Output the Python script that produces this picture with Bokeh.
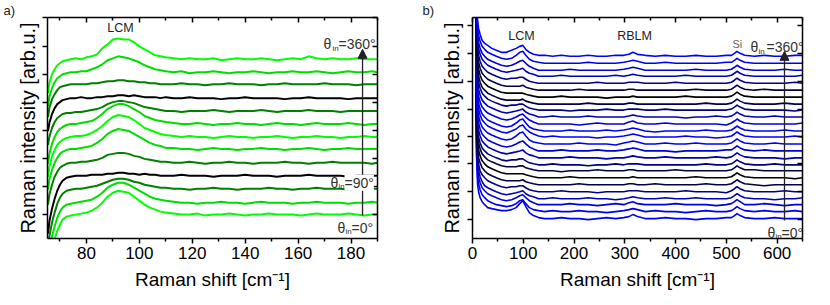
import math
from bokeh.plotting import figure
from bokeh.models import (Range1d, LinearAxis, FixedTicker, Label, Arrow,
                          NormalHead, CustomJSTickFormatter)
from bokeh.layouts import row
from bokeh.embed import file_html
from bokeh.resources import INLINE

FONT = "Liberation Sans"
TXT = "#333333"

# ---------------- panel a) : low-frequency spectra (green) ----------------
a_shift = [65.5, 66, 67, 68, 69, 70, 71, 72.5,
           74, 76, 78, 80, 82, 84, 86, 88, 90, 92, 94, 96, 98, 100, 102, 104, 106, 108, 110,
           113, 116, 119, 122, 125, 128, 131, 134, 137, 140, 143, 146, 149, 152, 155, 158,
           161, 164, 167, 170, 173, 176, 179, 182, 185, 188, 190]
a_angles = [360, 330, 300, 270, 240, 210, 180, 150, 120, 90, 60, 30, 0]
a_offset = [180, 167, 155, 141, 128, 115, 102, 90, 76, 63, 50, 36, 24]
a_360 = [-34,-24,-15,-10,-6,-4,-2,-1, 0,1,0,2,3,5,11,15,20,21,20,20,17,13,10,7,4,3,2,
         1,0,1,0,0,1,-1,0,1,0,0,1,0,-1,0,1,0,3,1,0,1,0,0,1,0,0,0]
a_330 = [-34,-25,-16,-10,-6,-4,-2,-1, 0,0,1,1,3,5,8,12,14,16,15,14,12,10,7,5,3,2,1,
         0,1,-1,0,0,1,0,-1,0,0,1,0,-1,0,0,1,0,0,1,0,-1,0,1,0,0,1,0]
a_300 = [-33,-24,-15,-10,-6,-3,-2,-1, 0,0,0,0,1,1,2,3,3,4,4,3,3,2,2,1,1,0,0,
         0,1,0,0,-1,0,0,1,0,0,0,-1,0,0,1,0,0,0,0,1,0,0,0,-1,0,0,0]
a_270 = [-33,-25,-16,-10,-6,-4,-2,-1, 0,0,1,0,0,1,1,2,2,3,3,2,3,2,1,1,1,0,1,
         0,0,1,0,0,0,-1,0,0,1,0,0,0,0,-1,0,0,1,0,0,0,0,-1,0,0,0,0]
a_240 = [-34,-26,-17,-11,-7,-5,-3,-2, -2,-1,-1,0,1,2,4,7,9,10,10,9,8,6,4,3,2,1,0,
         0,-1,0,0,0,1,0,-1,0,0,0,1,0,-1,0,0,0,1,0,0,0,-1,0,0,0,0,0]
a_210 = [-40,-30,-20,-13,-8,-5,-3,-1, 0,0,1,2,3,6,10,15,18,20,20,18,15,12,8,6,4,3,2,
         1,0,0,1,0,-1,0,0,1,0,0,-1,0,1,0,0,-1,0,1,0,0,0,1,0,-1,0,0]
a_180 = [-40,-30,-20,-13,-8,-5,-3,-1, 0,1,1,2,4,7,11,16,20,22,21,20,17,13,9,7,5,3,2,
         1,0,1,0,0,-1,0,1,0,0,-1,0,0,1,0,-1,0,0,1,0,0,-1,0,0,1,0,0]
a_150 = [-41,-31,-21,-14,-9,-5,-3,-1, 0,0,1,2,3,6,10,15,18,20,19,18,15,12,9,6,4,3,1,
         1,0,0,-1,0,1,0,0,-1,0,0,1,0,0,-1,0,0,1,0,-1,0,0,1,0,0,0,0]
a_120 = [-42,-32,-22,-14,-9,-5,-3,-1, 0,0,1,1,2,3,5,8,9,10,10,9,7,6,4,3,2,1,1,
         0,0,1,0,-1,0,0,1,0,0,-1,0,0,0,1,0,0,-1,0,0,1,0,0,0,0,-1,0]
a_090 = [-58,-46,-33,-23,-15,-9,-5,-2, -1,0,0,0,1,1,1,2,2,3,3,2,2,1,2,1,1,0,0,
         0,1,0,0,0,-1,0,0,0,1,0,0,0,-1,0,0,0,1,0,0,0,0,-1,0,0,0,0]
a_060 = [-60,-48,-34,-24,-15,-9,-5,-2, -1,0,0,1,2,3,5,7,9,10,10,9,7,6,4,3,2,1,1,
         0,0,-1,0,0,1,0,0,-1,0,0,0,1,0,0,-1,0,0,1,0,0,0,-1,0,0,0,0]
a_030 = [-60,-48,-34,-24,-15,-9,-5,-2, -1,0,1,2,3,6,10,15,18,20,20,18,15,12,9,6,4,3,2,
         1,0,0,-1,0,0,1,0,0,-1,0,1,0,0,0,-1,0,0,1,0,0,0,-1,0,0,1,0]
a_000 = [-62,-50,-36,-25,-16,-10,-5,-2, -1,0,1,2,4,7,12,18,22,24,23,22,18,14,10,7,5,3,2,
         1,0,0,1,-1,0,0,1,0,-1,0,0,1,0,0,0,-1,0,1,0,0,0,1,0,-1,0,0]
a_spectra = [a_360, a_330, a_300, a_270, a_240, a_210, a_180, a_150, a_120,
             a_090, a_060, a_030, a_000]
a_xticks = [80, 100, 120, 140, 160, 180]
a_xminor = [70, 90, 110, 130, 150, 170, 190]
a_yticks = [24, 52, 80, 108, 137, 165, 193, 222]

# ---------------- panel b) : wide-range spectra (blue) ----------------
b_shift = [6, 7, 8, 10, 12, 15, 19, 24, 30, 38, 47, 57,
           67, 77, 86, 93, 99, 105, 112, 120, 130, 142,
           158, 175, 192, 210, 228, 246, 264, 282,
           298, 308, 316, 325, 340,
           360, 380, 400, 420, 440, 460, 480, 500,
           510, 516, 521, 527, 536,
           555, 575, 595, 615, 635, 650]
b_angles = list(range(0, 361, 15))
b_offset = [20, 27, 34, 40, 47, 54, 61, 68, 74, 81, 88, 95, 102, 108, 115, 122,
            129, 135, 142, 149, 156, 163, 169, 176, 183]
b_000 = [250,120,62,34,27,21,17,14,11,10,9,8, 8,9,11,15,18,12,6,3,1,0,
         0,1,0,0,-1,0,1,0, 1,2,4,2,0, 0,1,0,0,-1,0,0,1, 1,3,5,3,1, 0,0,1,0,0,0]
b_015 = [250,120,60,35,28,22,17,14,11,9,7,6, 5,6,8,11,12,8,4,2,1,0,
         1,0,0,1,0,0,-1,0, 1,2,3,2,0, 1,0,0,-1,0,1,0,0, 1,3,5,3,1, 0,1,0,0,1,0]
b_030 = [250,120,60,36,28,22,17,14,11,9,7,5, 4,5,7,9,10,7,4,2,0,0,
         0,0,1,0,0,-1,0,1, 0,2,3,1,0, 0,0,1,0,0,0,-1,0, 1,3,5,3,0, 0,1,0,-1,0,0]
b_045 = [250,120,60,36,28,22,17,13,11,9,7,5, 4,5,6,7,8,5,3,2,0,0,
         1,0,0,0,1,0,0,-1, 0,1,2,1,0, 0,1,0,0,1,0,0,0, 1,3,5,3,1, 0,0,-1,0,0,1]
b_060 = [250,120,60,36,28,21,17,14,11,9,7,5, 4,5,5,6,6,4,2,1,0,0,
         0,1,0,0,0,-1,0,0, 0,1,1,1,0, 0,0,0,1,0,0,0,-1, 1,3,5,3,1, 0,0,0,1,0,0]
b_075 = [250,120,60,36,27,22,17,14,11,9,7,5, 4,4,4,4,5,3,2,1,0,0,
         0,0,0,1,0,0,0,0, 0,1,1,0,0, 1,0,0,0,0,1,0,0, 1,3,5,3,1, 0,-1,0,0,0,0]
b_090 = [250,120,60,36,28,22,17,14,11,9,7,5, 4,4,4,4,4,3,2,1,0,0,
         0,0,1,0,0,0,0,0, 0,0,1,0,0, 0,0,0,0,1,0,0,0, 1,3,5,3,1, 0,0,0,0,-1,0]
b_105 = [250,120,60,35,28,22,17,14,11,9,7,5, 4,4,4,5,5,3,2,1,0,0,
         0,-1,0,0,0,1,0,0, 0,1,1,0,0, 0,0,1,0,0,0,0,0, 1,3,5,3,1, 1,0,0,0,0,0]
b_120 = [250,120,60,36,28,22,17,14,11,9,7,5, 4,5,5,6,6,4,2,1,0,0,
         1,0,0,0,-1,0,0,1, 0,1,1,1,0, 0,0,0,0,0,1,0,0, 1,3,5,3,1, 0,0,1,0,0,0]
b_135 = [250,120,60,36,28,22,17,14,11,9,7,5, 4,5,6,7,8,5,3,2,0,0,
         0,0,1,0,0,0,-1,0, 0,1,2,1,0, 0,1,0,0,0,0,1,0, 1,3,5,3,1, 0,0,0,-1,0,0]
b_150 = [250,120,60,36,28,22,17,14,11,9,7,5, 4,5,7,9,10,7,4,2,0,0,
         0,1,0,0,0,1,0,0, 1,2,3,2,0, 0,0,-1,0,0,0,0,1, 1,3,5,3,1, 0,1,0,0,0,0]
b_165 = [250,120,60,36,28,22,17,14,11,9,7,5, 4,5,8,11,12,8,4,2,1,0,
         0,0,0,1,0,0,0,-1, 1,2,3,2,0, 0,1,0,0,1,0,0,0, 1,3,5,3,1, 0,0,1,0,0,0]
b_180 = [250,120,60,36,28,22,17,14,11,9,7,5, 4,6,8,11,12,8,5,3,1,0,
         1,0,0,0,0,-1,0,0, 1,2,3,2,0, 0,0,0,1,0,0,-1,0, 1,3,5,3,1, 0,0,0,0,1,0]
b_195 = [250,120,60,36,28,22,17,14,11,9,7,5, 4,5,8,11,12,8,4,2,1,0,
         0,0,1,0,0,0,1,0, 1,2,3,2,0, -1,0,0,0,0,1,0,0, 1,3,5,3,1, 0,0,0,1,0,0]
b_210 = [250,120,60,36,28,22,17,14,11,9,7,5, 4,5,7,9,10,7,4,2,0,0,
         0,0,0,-1,0,1,0,0, 0,2,3,1,0, 0,1,0,0,0,0,0,-1, 1,3,5,3,1, 0,0,0,0,0,1]
b_225 = [250,120,60,36,28,22,17,14,11,9,7,5, 4,5,6,7,8,5,3,2,0,0,
         1,0,0,0,1,0,0,0, 0,1,2,1,0, 0,0,0,-1,0,0,1,0, 1,3,5,3,1, 0,0,1,0,0,0]
b_240 = [250,120,60,36,28,22,17,14,11,9,7,5, 4,5,5,6,6,4,2,1,0,0,
         0,0,-1,0,0,0,1,0, 0,1,1,1,0, 0,1,0,0,0,0,0,0, 1,3,5,3,1, 0,0,0,0,-1,0]
b_255 = [250,120,60,36,28,22,17,14,11,9,7,5, 4,4,4,4,5,3,2,1,0,0,
         0,0,0,0,1,0,0,0, 0,1,1,0,0, 0,0,0,0,0,1,0,0, 1,3,5,3,1, 0,0,0,1,0,0]
b_270 = [250,120,60,36,28,22,17,14,11,9,7,5, 4,4,4,4,4,3,2,1,0,0,
         0,1,0,0,0,0,-1,0, 0,0,1,0,0, 0,0,0,1,0,0,0,0, 1,3,5,3,1, 0,0,0,0,0,0]
b_285 = [250,120,60,36,28,22,17,14,11,9,7,5, 4,4,4,4,5,3,2,1,0,0,
         0,0,0,1,0,0,0,0, 0,1,1,0,0, 0,0,0,0,1,0,0,0, 1,3,5,3,1, 0,1,0,0,0,0]
b_300 = [250,120,60,36,28,22,17,14,11,9,7,5, 4,5,5,6,6,4,2,1,0,0,
         0,0,0,0,0,1,0,0, 0,1,1,1,0, 0,0,1,0,0,0,0,0, 1,3,5,3,1, 0,0,0,0,1,0]
b_315 = [250,120,60,36,28,22,17,14,11,9,7,5, 4,5,6,7,8,5,3,2,0,0,
         0,1,0,0,0,0,0,1, 0,1,2,1,0, 0,0,0,1,0,0,0,0, 1,3,5,3,1, 0,0,0,0,0,1]
b_330 = [250,120,60,36,28,22,17,14,11,9,7,5, 4,5,7,9,10,7,4,2,0,0,
         0,0,1,0,0,0,0,0, 1,2,3,2,0, 0,0,0,0,1,0,0,0, 1,3,5,3,1, 0,0,0,1,0,0]
b_345 = [250,120,60,36,28,22,17,14,11,9,7,5, 4,5,8,11,12,8,4,2,1,0,
         0,0,0,0,1,0,0,0, 1,2,3,2,0, 0,1,0,0,0,0,0,1, 1,3,5,3,1, 0,0,0,0,0,0]
b_360 = [250,120,60,36,28,22,16,13,11,8,6,4, 4,6,8,10,11,7,4,2,1,1,
         0,1,0,0,1,0,0,1, 1,2,4,2,1, 0,1,0,0,1,0,0,1, 1,3,5,3,1, 0,1,0,0,1,1]
b_spectra = [b_000, b_015, b_030, b_045, b_060, b_075, b_090, b_105, b_120, b_135,
             b_150, b_165, b_180, b_195, b_210, b_225, b_240, b_255, b_270, b_285,
             b_300, b_315, b_330, b_345, b_360]
b_xticks = [0, 100, 200, 300, 400, 500, 600]
b_xminor = [50, 150, 250, 350, 450, 550, 650]
b_yticks = [19, 47, 75, 102, 130, 158, 186, 214]

for s in a_spectra:
    assert len(s) == len(a_shift), len(s)
for s in b_spectra:
    assert len(s) == len(b_shift), len(s)


def style(ax):
    ax.axis_line_color = "black"
    ax.axis_line_width = 1.5
    ax.major_tick_line_color = "black"
    ax.major_tick_line_width = 1.5
    ax.minor_tick_line_color = "black"
    ax.minor_tick_line_width = 1.5
    ax.major_label_text_font = FONT
    ax.axis_label_text_font = FONT
    ax.axis_label_text_font_style = "normal"
    ax.major_label_text_color = "black"
    ax.axis_label_text_color = "black"


def blank(ax):
    ax.formatter = CustomJSTickFormatter(code="return ''")
    ax.major_label_text_font_size = "0px"
    ax.major_label_standoff = 0


def make_panel(xr, yr, xt, xm, yt, width, bl, br, ystand, tag, tag_off):
    p = figure(width=width, height=305, x_range=Range1d(*xr), y_range=Range1d(*yr),
               output_backend="svg", toolbar_location=None,
               min_border_left=bl, min_border_right=br, min_border_top=16,
               min_border_bottom=67)
    p.grid.visible = False
    p.outline_line_color = None
    p.title.text = tag
    p.title.align = "left"
    p.title.offset = tag_off
    p.title.standoff = 0
    p.title.text_font = FONT
    p.title.text_font_size = "13px"
    p.title.text_font_style = "normal"
    p.title.text_color = "#222222"
    p.title.vertical_align = "bottom"
    xb = p.xaxis[0]
    style(xb)
    xb.ticker = FixedTicker(ticks=xt, minor_ticks=xm)
    xb.major_tick_out, xb.major_tick_in = 5, 0
    xb.minor_tick_out, xb.minor_tick_in = 3, 0
    xb.major_label_text_font_size = "17px"
    xb.major_label_standoff = 3
    xb.axis_label = "Raman shift [cm⁻¹]"
    xb.axis_label_text_font_size = "19px"
    xb.axis_label_standoff = 7
    yl = p.yaxis[0]
    style(yl)
    yl.ticker = FixedTicker(ticks=yt, minor_ticks=[])
    yl.major_tick_out, yl.major_tick_in = 5, 0
    yl.minor_tick_out, yl.minor_tick_in = 0, 0
    blank(yl)
    yl.axis_label = "Raman intensity [arb.u.]"
    yl.axis_label_text_font_size = "20px"
    yl.axis_label_standoff = ystand
    top = LinearAxis(ticker=FixedTicker(ticks=xt, minor_ticks=xm))
    style(top)
    top.major_tick_in, top.major_tick_out = 5, 0
    top.minor_tick_in, top.minor_tick_out = 3, 0
    blank(top)
    p.add_layout(top, "above")
    rt = LinearAxis(ticker=FixedTicker(ticks=yt, minor_ticks=[]))
    style(rt)
    rt.major_tick_in, rt.major_tick_out = 5, 0
    rt.minor_tick_in, rt.minor_tick_out = 0, 0
    blank(rt)
    p.add_layout(rt, "right")
    return p


def shade(theta, ch):
    c = round(255 * abs(math.cos(math.radians(theta))))
    return f"#00{c:02x}00" if ch == "g" else f"#0000{c:02x}"


def lbl(p, x, y, text, size, color=TXT, align="left", baseline="alphabetic", bg=None):
    kw = {}
    if bg:
        kw = dict(background_fill_color=bg, background_fill_alpha=1.0)
    p.add_layout(Label(x=x, y=y, text=text, text_font=FONT, text_font_size=size,
                       text_color=color, text_align=align, text_baseline=baseline, **kw))


# ---------- panel a ----------
def ax_(px):
    return 65.3 + (px - 47) / 2.646


def yy(py):
    return 238 - py


pa = make_panel((65.3, 190), (0, 222), a_xticks, a_xminor, a_yticks, 415, 47, 38, 4,
                "a)", -44)
for ang, off, spec in zip(a_angles, a_offset, a_spectra):
    pa.line(a_shift, [off + v for v in spec], line_color=shade(ang, "g"),
            line_width=2, line_join="round")

pa.add_layout(Arrow(end=NormalHead(size=9, fill_color="#222222", line_color="#222222"),
                    x_start=ax_(362), y_start=yy(215), x_end=ax_(362), y_end=yy(48),
                    line_color="#222222", line_width=1.3))
lbl(pa, ax_(120), yy(27), "LCM", "12.5px", color="#222222", align="center", baseline="middle")
lbl(pa, ax_(323), yy(43), "θ", "14px")
lbl(pa, ax_(332), yy(47), "in", "8px")
lbl(pa, ax_(338), yy(43), "=360°", "14px")
lbl(pa, ax_(330), yy(182), "θ", "14px")
lbl(pa, ax_(338), yy(186), "in", "8px")
lbl(pa, ax_(344), yy(182), "=90°", "14px", bg="white")
lbl(pa, ax_(337), yy(227), "θ", "14px")
lbl(pa, ax_(345), yy(231), "in", "8px")
lbl(pa, ax_(351), yy(227), "=0°", "14px")


# ---------- panel b ----------
def bx_(px):
    return (px - 472) / 0.5077


pb = make_panel((0, 650), (0, 222), b_xticks, b_xminor, b_yticks, 415, 57, 28, 5,
                "b)", -50)
for ang, off, spec in zip(b_angles, b_offset, b_spectra):
    pb.line(b_shift, [off + v for v in spec], line_color=shade(ang, "b"),
            line_width=1.6, line_join="round")

pb.add_layout(Arrow(end=NormalHead(size=9, fill_color="#222222", line_color="#222222"),
                    x_start=bx_(784), y_start=yy(220), x_end=bx_(784), y_end=yy(50),
                    line_color="#222222", line_width=1.3))
lbl(pb, bx_(521), yy(35), "LCM", "12.5px", color="#222222", align="center", baseline="middle")
lbl(pb, bx_(634), yy(35), "RBLM", "12.5px", color="#222222", align="center", baseline="middle")
lbl(pb, bx_(732), yy(43), "Si", "11px", color="#666666")
lbl(pb, bx_(750), yy(46), "θ", "14px")
lbl(pb, bx_(758), yy(50), "in", "8px")
lbl(pb, bx_(766), yy(46), "=360°", "14px")
lbl(pb, bx_(767), yy(232), "θ", "14px")
lbl(pb, bx_(775), yy(236), "in", "8px")
lbl(pb, bx_(781), yy(232), "=0°", "14px")

layout = row(pa, pb)
open("out.html", "w").write(file_html(layout, INLINE))
